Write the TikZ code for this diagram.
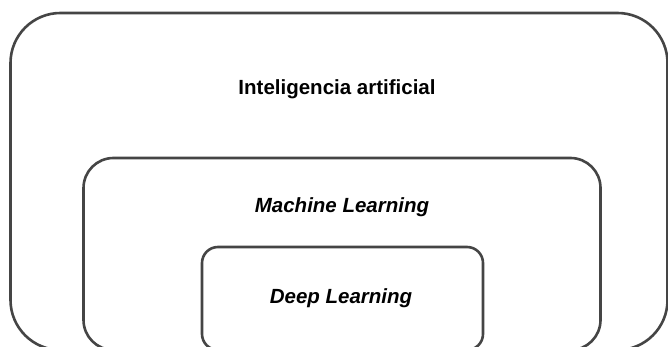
\documentclass[tikz,border=0pt]{standalone}
\usepackage{fontspec}
\setmainfont{Liberation Sans}
\usepackage{tikz}
\definecolor{trait}{HTML}{454545}

\begin{document}
\begin{tikzpicture}[x=1pt, y=1pt,
  boite/.style={draw=trait, line width=2.6pt, rounded corners=#1, inner sep=0pt},
  titre/.style={font=\fontsize{20.5}{24}\selectfont\bfseries}]

\useasboundingbox (0,0) rectangle (668,347);

% Les boîtes imbriquées
\node[boite=50pt, minimum width=657pt, minimum height=337pt] (IA) at (339,165.5) {};
\node[boite=30pt, minimum width=517pt, minimum height=192pt] (ML) at (342,93) {};
\node[boite=16pt, minimum width=281pt, minimum height=103pt] (DL) at (342.5,48.5) {};

% Les titres
\node[titre] (tIA) at (337,258) {Inteligencia artificial};
\node[titre, font=\fontsize{20.5}{24}\selectfont\bfseries\itshape] (tML) at (342,140) {Machine Learning};
\node[titre, font=\fontsize{20.5}{24}\selectfont\bfseries\itshape] (tDL) at (341,49) {Deep Learning};

\end{tikzpicture}
\end{document}
